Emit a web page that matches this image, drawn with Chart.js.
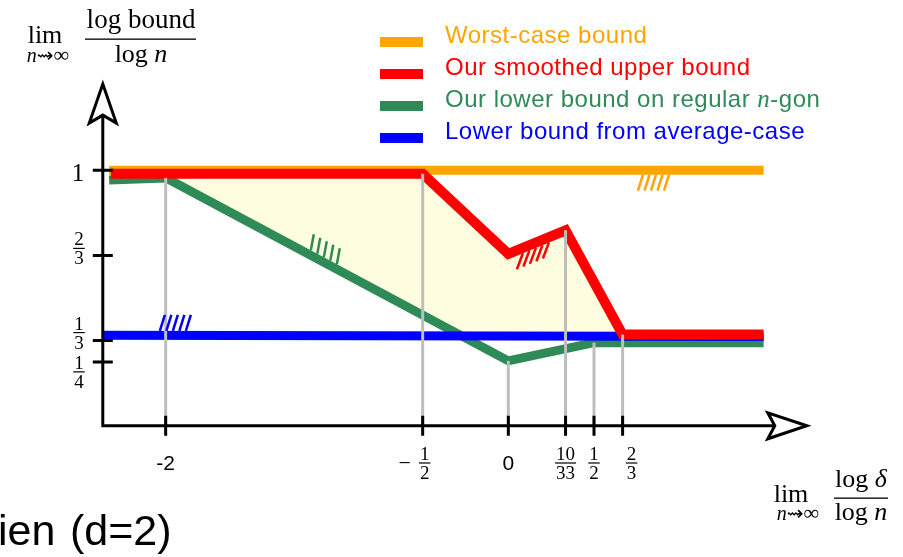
<!DOCTYPE html>
<html>
<head>
<meta charset="utf-8">
<script src="https://cdn.jsdelivr.net/npm/chart.js@4.4.0/dist/chart.umd.min.js"></script>
<style>
  body { margin: 0; background: #fff; }
  #wrap { width: 903px; height: 557px; }
</style>
</head>
<body>
<div id="wrap"><canvas id="grafico" width="903" height="557"></canvas></div>
<script>
// x = lim log(delta)/log n , y = lim log(bound)/log n
const worstX = [-2.33, 1.49];
const worstY = [1.0, 1.0];
const upperX = [-2.32, -0.5, 0, 0.334, 0.667, 1.49];
const upperY = [0.986, 0.986, 0.673, 0.765, 0.357, 0.357];
const lowerX = [-2.33, -2, 0, 0.5, 1.49];
const lowerY = [0.962, 0.97, 0.254, 0.325, 0.325];
const avgX = [-2.37, 1.49];
const avgY = [0.354, 0.349];

// ticks (the 10/33 mark sits where the picture puts it)
const xTickVals = [-2, -0.5, 0, 0.334, 0.5, 0.667];
const xTickLabels = ['-2', '-1/2', '0', '10/33', '1/2', '2/3'];
const yTickVals = [1, 2 / 3, 1 / 3, 1 / 4];
const yTickLabels = ['1', '2/3', '1/3', '1/4'];
// series each grey guide climbs up to
const guideSeries = ['lower', 'upper', 'lower', 'upper', 'lower', 'upper'];

const legendLabels = ['Worst-case bound', 'Our smoothed upper bound', 'Our lower bound on regular n-gon', 'Lower bound from average-case'];

const SERIF = "'Liberation Serif', 'DejaVu Serif', serif";
const SANS = "'Liberation Sans', 'DejaVu Sans', sans-serif";

const series = {
  worst: { xs: worstX, ys: worstY, color: '#FFA500', width: 9 },
  upper: { xs: upperX, ys: upperY, color: '#FF0000', width: 10 },
  lower: { xs: lowerX, ys: lowerY, color: '#2E8B57', width: 9 },
  avg: { xs: avgX, ys: avgY, color: '#0000FF', width: 9 }
};

const toPts = (xs, ys) => xs.map((x, i) => ({ x, y: ys[i] }));

const interp = (xs, ys, x) => {
  if (x <= xs[0]) return ys[0];
  for (let i = 1; i < xs.length; i++) {
    if (x <= xs[i]) {
      const t = (x - xs[i - 1]) / (xs[i] - xs[i - 1]);
      return ys[i - 1] + t * (ys[i] - ys[i - 1]);
    }
  }
  return ys[ys.length - 1];
};

const px = (chart, v) => chart.scales.x.getPixelForValue(v);
const py = (chart, v) => chart.scales.y.getPixelForValue(v);

// writes a list of runs [{t, f}] one after the other
const runs = (ctx, parts, x, y, align) => {
  let w = 0;
  parts.forEach(p => { ctx.font = p.f; w += ctx.measureText(p.t).width; });
  let cx = align === 'center' ? x - w / 2 : x;
  ctx.textAlign = 'left';
  parts.forEach(p => { ctx.font = p.f; ctx.fillText(p.t, cx, y); cx += ctx.measureText(p.t).width; });
  return w;
};

const fraccion = (ctx, num, den, cx, barY, size) => {
  ctx.font = size + 'px ' + SERIF;
  ctx.textAlign = 'center';
  ctx.textBaseline = 'alphabetic';
  const w = Math.max(ctx.measureText(num).width, ctx.measureText(den).width) + 2;
  ctx.fillText(num, cx, barY - 3);
  ctx.fillText(den, cx, barY + 3 + size * 0.68);
  ctx.fillRect(cx - w / 2, barY - 0.6, w, 1.2);
};

// yellow region between the upper bound and the best lower bound
const relleno = {
  id: 'relleno',
  beforeDatasetsDraw(chart) {
    const ctx = chart.ctx;
    const a = xTickVals[0], b = xTickVals[5];
    const top = [], bot = [];
    for (let x = a; x <= b + 1e-9; x += 0.004) {
      top.push([px(chart, x), py(chart, interp(upperX, upperY, x))]);
      const lo = Math.max(interp(lowerX, lowerY, x), interp(avgX, avgY, x));
      bot.push([px(chart, x), py(chart, lo)]);
    }
    ctx.save();
    ctx.beginPath();
    top.forEach((p, i) => (i ? ctx.lineTo(p[0], p[1]) : ctx.moveTo(p[0], p[1])));
    bot.reverse().forEach(p => ctx.lineTo(p[0], p[1]));
    ctx.closePath();
    ctx.fillStyle = '#FFFDE0';
    ctx.fill();
    ctx.restore();
  }
};

const hatches = [
  { serie: 'worst', x0: 0.786, lado: -1, dx: 5 },
  { serie: 'lower', x0: -1.153, lado: 1, dx: 3 },
  { serie: 'avg', x0: -2.034, lado: 1, dx: 5 },
  { serie: 'upper', x0: 0.085, lado: -1, dx: 6 }
];

const ejes = {
  id: 'ejes',
  afterDatasetsDraw(chart) {
    const ctx = chart.ctx;
    const ax = px(chart, -2.367), ay = py(chart, 0);
    const topY = py(chart, 1.337), rightX = px(chart, 1.742);
    ctx.save();

    // grey guides
    ctx.strokeStyle = '#BEBEBE';
    ctx.lineWidth = 3;
    xTickVals.forEach((v, i) => {
      const s = series[guideSeries[i]];
      ctx.beginPath();
      ctx.moveTo(px(chart, v), ay);
      ctx.lineTo(px(chart, v), py(chart, interp(s.xs, s.ys, v)));
      ctx.stroke();
    });

    // hatch marks
    ctx.lineWidth = 2.5;
    ctx.lineCap = 'butt';
    hatches.forEach(h => {
      const s = series[h.serie];
      ctx.strokeStyle = s.color;
      const sx = px(chart, h.x0);
      for (let k = 0; k < 5; k++) {
        const x = sx + k * 6.5;
        const v = chart.scales.x.getValueForPixel(x);
        const yc = py(chart, interp(s.xs, s.ys, v));
        const y2 = py(chart, interp(s.xs, s.ys, chart.scales.x.getValueForPixel(x + 1)));
        const off = (s.width / 2) * Math.sqrt(1 + (y2 - yc) * (y2 - yc));
        ctx.beginPath();
        if (h.lado > 0) {
          ctx.moveTo(x, yc - off);
          ctx.lineTo(x + h.dx, yc - off - 16);
        } else {
          ctx.moveTo(x, yc + off);
          ctx.lineTo(x - h.dx, yc + off + 16);
        }
        ctx.stroke();
      }
    });

    // axes
    ctx.strokeStyle = '#000';
    ctx.fillStyle = '#fff';
    ctx.lineWidth = 3;
    ctx.lineJoin = 'miter';
    ctx.beginPath();
    ctx.moveTo(ax, topY + 31);
    ctx.lineTo(ax, ay);
    ctx.lineTo(rightX - 32, ay);
    ctx.stroke();
    ctx.beginPath();
    ctx.moveTo(ax, topY);
    ctx.lineTo(ax + 13.5, topY + 39);
    ctx.lineTo(ax, topY + 31);
    ctx.lineTo(ax - 13.5, topY + 39);
    ctx.closePath();
    ctx.fill();
    ctx.stroke();
    ctx.beginPath();
    ctx.moveTo(rightX, ay);
    ctx.lineTo(rightX - 39, ay - 13);
    ctx.lineTo(rightX - 32, ay);
    ctx.lineTo(rightX - 39, ay + 13);
    ctx.closePath();
    ctx.fill();
    ctx.stroke();

    // tick marks
    ctx.beginPath();
    xTickVals.forEach(v => { ctx.moveTo(px(chart, v), ay - 10); ctx.lineTo(px(chart, v), ay + 10); });
    yTickVals.forEach(v => { ctx.moveTo(ax - 10, py(chart, v)); ctx.lineTo(ax + 10, py(chart, v)); });
    ctx.stroke();

    // tick labels
    ctx.fillStyle = '#000';
    const nudge = [0, 0, 0, 0, 0, 9];
    xTickLabels.forEach((lab, i) => {
      const x = px(chart, xTickVals[i]) + nudge[i];
      if (lab.includes('/')) {
        let [n, d] = lab.split('/');
        if (n.startsWith('-')) {
          n = n.slice(1);
          ctx.font = '22px ' + SERIF;
          ctx.textAlign = 'center';
          ctx.fillText('\u2212', x - 18, 470);
          fraccion(ctx, n, d, x + 2, 463, 19);
        } else {
          fraccion(ctx, n, d, x, 463, 19);
        }
      } else {
        ctx.font = '21px ' + SANS;
        ctx.textAlign = 'center';
        ctx.fillText(lab, x, 470);
      }
    });
    const yBar = [0, -7, -8, 10];
    yTickLabels.forEach((lab, i) => {
      const y = py(chart, yTickVals[i]);
      if (lab.includes('/')) {
        const [n, d] = lab.split('/');
        fraccion(ctx, n, d, 79, y + yBar[i], 19);
      } else {
        ctx.font = '25px ' + SERIF;
        ctx.textAlign = 'center';
        ctx.fillText(lab, 78, y + 11);
      }
    });
    ctx.restore();
  },
  afterDraw(chart) {
    const ctx = chart.ctx;
    ctx.save();
    ctx.textBaseline = 'alphabetic';

    // legend
    const colores = [series.worst.color, series.upper.color, series.lower.color, series.avg.color];
    ctx.letterSpacing = '0.5px';
    legendLabels.forEach((lab, i) => {
      const cy = 42 + i * 32;
      ctx.fillStyle = colores[i];
      ctx.fillRect(380, cy - 5, 43, 10);
      const f = '24px ' + SANS;
      if (lab.includes(' n-')) {
        const [a, b] = lab.split('n-');
        runs(ctx, [{ t: a, f }, { t: 'n', f: 'italic 25px ' + SERIF }, { t: '-' + b, f }], 445, cy + 1, 'left');
      } else {
        ctx.font = f;
        ctx.textAlign = 'left';
        ctx.fillText(lab, 445, cy + 1);
      }
    });
    ctx.letterSpacing = '0px';

    // axis titles
    ctx.fillStyle = '#000';
    const big = '26px ' + SERIF;
    const sub = 'italic 20px ' + SERIF;
    const sub2 = '20px ' + "'DejaVu Sans', " + SERIF;
    const inf = '22px ' + SERIF;
    // y title
    ctx.font = big; ctx.textAlign = 'center';
    ctx.fillText('lim', 45, 43);
    runs(ctx, [{ t: 'n', f: sub }, { t: '\u21DD', f: sub2 }, { t: '\u221E', f: inf }], 48, 62, 'center');
    ctx.font = '27px ' + SERIF; ctx.textAlign = 'center';
    ctx.fillText('log bound', 141, 28);
    ctx.fillRect(85, 38.5, 111, 1.3);
    runs(ctx, [{ t: 'log ', f: big }, { t: 'n', f: 'italic 26px ' + SERIF }], 141, 62, 'center');
    // x title
    ctx.font = big; ctx.textAlign = 'center';
    ctx.fillText('lim', 791, 502);
    runs(ctx, [{ t: 'n', f: sub }, { t: '\u21DD', f: sub2 }, { t: '\u221E', f: inf }], 798, 520, 'center');
    runs(ctx, [{ t: 'log ', f: big }, { t: '\u03B4', f: 'italic 26px ' + SERIF }], 861, 487, 'center');
    ctx.fillRect(834, 497.5, 54, 1.3);
    runs(ctx, [{ t: 'log ', f: big }, { t: 'n', f: 'italic 26px ' + SERIF }], 861, 520, 'center');

    // leftover slide text
    ctx.font = '43px ' + SANS;
    ctx.textAlign = 'left';
    ctx.fillText('ien', -2, 545);
    ctx.fillText('(d=2)', 70, 545);
    ctx.restore();
  }
};

const ds = (label, key, order) => ({
  label,
  data: toPts(series[key].xs, series[key].ys),
  borderColor: series[key].color,
  borderWidth: series[key].width,
  showLine: true,
  pointRadius: 0,
  fill: false,
  tension: 0,
  borderCapStyle: 'butt',
  borderJoinStyle: 'miter',
  order
});

new Chart(document.getElementById('grafico'), {
  type: 'scatter',
  data: {
    datasets: [
      ds(legendLabels[0], 'worst', 4),
      ds(legendLabels[1], 'upper', 1),
      ds(legendLabels[2], 'lower', 3),
      ds(legendLabels[3], 'avg', 2)
    ]
  },
  options: {
    responsive: false,
    devicePixelRatio: 1,
    animation: false,
    events: [],
    layout: { padding: { left: 80, right: 52, top: 68, bottom: 29 } },
    plugins: { legend: { display: false }, tooltip: { enabled: false } },
    scales: {
      x: { type: 'linear', min: -2.5, max: 2, display: false },
      y: { type: 'linear', min: -0.4, max: 1.4, display: false }
    }
  },
  plugins: [relleno, ejes]
});
</script>
</body>
</html>
